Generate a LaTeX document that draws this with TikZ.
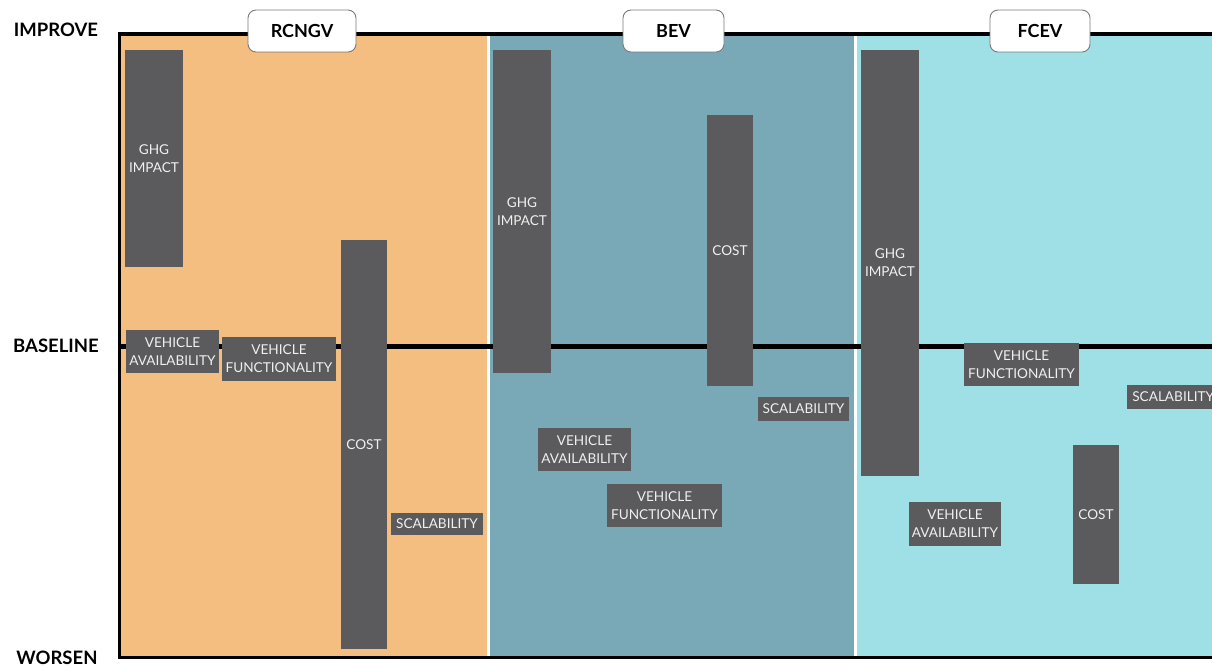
\documentclass[tikz,border=0pt]{standalone}
\usepackage{fontspec}
\setmainfont{Lato}
\definecolor{colA}{HTML}{F3BE7F}
\definecolor{colB}{HTML}{79A9B6}
\definecolor{colC}{HTML}{9FDFE6}
\definecolor{barcol}{HTML}{5B5A5C}
\definecolor{bartxt}{HTML}{F0F0F0}
\definecolor{hdrline}{HTML}{7A7A7A}
\tikzset{
  bar/.style={fill=barcol, draw=none, inner sep=0pt, text=bartxt, align=center,
    font=\fontsize{13.6}{18}\selectfont},
  hdr/.style={fill=white, draw=hdrline, line width=0.9pt, rounded corners=8pt,
    minimum height=42pt, inner sep=0pt, font=\bfseries\fontsize{18}{20}\selectfont},
  axlabel/.style={inner sep=0pt, font=\bfseries\fontsize{18.5}{21}\selectfont},
  frame/.style={line width=3.5pt, black},
}
\begin{document}
\begin{tikzpicture}[x=1pt,y=-1pt]
\useasboundingbox (0,0) rectangle (1212,666);
\clip (0,0) rectangle (1212,666);
% columns
\fill[colA] (120,34) rectangle (487,657);
\fill[colB] (490,34) rectangle (854,657);
\fill[colC] (857,34) rectangle (1212,657);
% frame lines
\coordinate (tl) at (118,34);
\coordinate (tr) at (1212,34);
\coordinate (bl) at (118,657.5);
\coordinate (br) at (1212,657.5);
\coordinate (ml) at (118,346);
\coordinate (mr) at (1212,346);
\draw[frame, line width=4pt] (tl) -- (tr);
\draw[frame, line width=3pt] (119.5,32) -- (119.5,659);
\draw[frame, line width=3pt] (bl) -- (br);
\draw[frame, line width=5pt] (ml) -- (mr);
% axis labels
\node[axlabel] (improve) at (56,30) {IMPROVE};
\node[axlabel] (baseline) at (56,346) {BASELINE};
\node[axlabel, anchor=base] (worsen) at (57,664) {WORSEN};
% headers
\node[hdr, minimum width=108pt] (h1) at (302,31) {RCNGV};
\node[hdr, minimum width=101pt] (h2) at (673.5,31) {BEV};
\node[hdr, minimum width=100pt] (h3) at (1040,31) {FCEV};
% RCNGV bars
\node[bar, minimum width=58pt, minimum height=217pt] (a1) at (154,158.5) {GHG\\IMPACT};
\node[bar, minimum width=93pt, minimum height=43pt] (a2) at (172.5,351.5) {VEHICLE\\AVAILABILITY};
\node[bar, minimum width=114pt, minimum height=44pt] (a3) at (279,359) {VEHICLE\\FUNCTIONALITY};
\node[bar, minimum width=46pt, minimum height=409pt] (a4) at (364,444.5) {COST};
\node[bar, minimum width=92pt, minimum height=22pt] (a5) at (437,524) {SCALABILITY};
% BEV bars
\node[bar, minimum width=58pt, minimum height=323pt] (b1) at (522,211.5) {GHG\\IMPACT};
\node[bar, minimum width=46pt, minimum height=271pt] (b2) at (730,250.5) {COST};
\node[bar, minimum width=91pt, minimum height=24pt] (b3) at (803.5,409) {SCALABILITY};
\node[bar, minimum width=93pt, minimum height=43pt] (b4) at (584.5,449.5) {VEHICLE\\AVAILABILITY};
\node[bar, minimum width=115pt, minimum height=43pt] (b5) at (664.5,505.5) {VEHICLE\\FUNCTIONALITY};
% FCEV bars
\node[bar, minimum width=58pt, minimum height=426pt] (c1) at (890,263) {GHG\\IMPACT};
\node[bar, minimum width=115pt, minimum height=43pt] (c2) at (1021.5,364.5) {VEHICLE\\FUNCTIONALITY};
\node[bar, minimum width=92pt, minimum height=24pt, anchor=west] (c3) at (1127,397) {SCALABILITY};
\node[bar, minimum width=92pt, minimum height=44pt] (c4) at (955,524) {VEHICLE\\AVAILABILITY};
\node[bar, minimum width=46pt, minimum height=139pt] (c5) at (1096,514.5) {COST};
\end{tikzpicture}
\end{document}
